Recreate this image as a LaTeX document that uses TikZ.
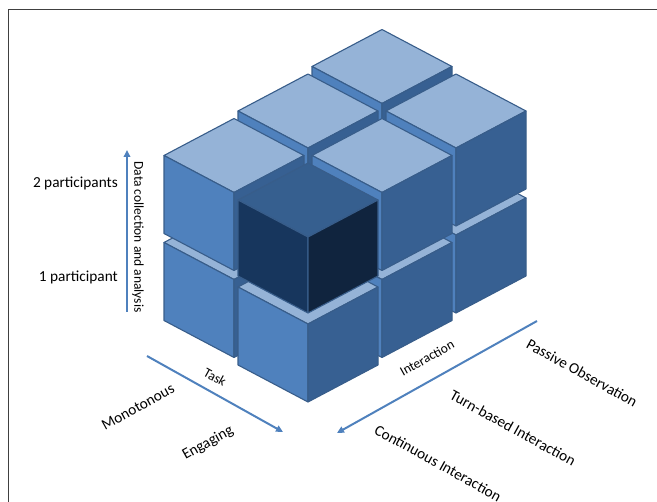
\documentclass[tikz,border=0pt]{standalone}
\usepackage{fontspec}
\setmainfont{Carlito}
\usetikzlibrary{arrows.meta,calc}

\definecolor{topblue}{HTML}{95B3D7}
\definecolor{leftblue}{HTML}{4F81BD}
\definecolor{rightblue}{HTML}{376092}
\definecolor{edgeblue}{HTML}{385D8A}
\definecolor{darktop}{HTML}{365F8F}
\definecolor{darkleft}{HTML}{17365D}
\definecolor{darkright}{HTML}{10243E}

\begin{document}
\begin{tikzpicture}[x=1pt,y=1pt,
  face/.style={draw=edgeblue,line width=1.1pt,line join=round},
  axisarrow/.style={draw=leftblue,line width=2pt,-{Triangle[length=7pt,width=6.5pt]}},
  biglabel/.style={inner sep=0pt,font=\fontsize{15.3}{18}\selectfont},
  axislabel/.style={inner sep=0pt,font=\fontsize{13.5}{16}\selectfont},
  frameline/.style={draw=black!75,line width=1.3pt}
]
\useasboundingbox (0,0) rectangle (657,-502);

% frame
\draw[frameline] (657,-9.5) -- (8.5,-9.5) -- (8.5,-502);

% cubes, back to front (task i, interaction j, layer k)
\foreach \i/\j/\k in {0/0/0,0/1/0,1/0/0,0/0/1,0/2/0,1/1/0,0/1/1,1/0/1,1/2/0,0/2/1,1/1/1}{
  \coordinate (F) at ({382+74*(\i-\j)},{-190.5-44.5*(\i+\j)+87*\k});
  \draw[face,fill=topblue] (F) -- ++(-70,37) -- ++(70,37) -- ++(70,-37) -- cycle;
  \draw[face,fill=leftblue] (F) -- ++(-70,37) -- ++(0,-78) -- ++(70,-37) -- cycle;
  \draw[face,fill=rightblue] (F) -- ++(70,37) -- ++(0,-78) -- ++(-70,-37) -- cycle;
}

% selected cube
\coordinate (sel) at (308,-237);
\draw[face,fill=darktop] (sel) -- ++(-70,37) -- ++(70,37) -- ++(70,-37) -- cycle;
\draw[face,fill=darkleft] (sel) -- ++(-70,37) -- ++(0,-76) -- ++(70,-37) -- cycle;
\draw[face,fill=darkright] (sel) -- ++(70,37) -- ++(0,-76) -- ++(-70,-37) -- cycle;

% participants axis
\coordinate (partS) at (127,-312);
\coordinate (partE) at (127,-150);
\draw[axisarrow] (partS) -- (partE);
\node[axislabel,rotate=-90] (partlbl) at (138,-237) {Data collection and analysis};
\node[biglabel,anchor=east] (two) at (118,-183) {2 participants};
\node[biglabel,anchor=east] (one) at (118,-277) {1 participant};

% task axis
\coordinate (taskS) at (147,-356);
\coordinate (taskE) at (283,-432);
\draw[axisarrow] (taskS) -- (taskE);
\node[axislabel,rotate=-29] (tasklbl) at (215,-377) {Task};
\node[biglabel,rotate=29] (mono) at (138,-407) {Monotonous};
\node[biglabel,rotate=29] (eng) at (208,-443) {Engaging};

% interaction axis
\coordinate (interS) at (537,-321);
\coordinate (interE) at (337,-433);
\draw[axisarrow] (interS) -- (interE);
\node[axislabel,rotate=29] (interlbl) at (427,-358) {Interaction};
\node[biglabel,rotate=-29] (passive) at (582,-373) {Passive Observation};
\node[biglabel,rotate=-29] (turn) at (513,-428) {Turn-based Interaction};
\node[biglabel,rotate=-29] (cont) at (438,-463) {Continuous Interaction};
\end{tikzpicture}
\end{document}
